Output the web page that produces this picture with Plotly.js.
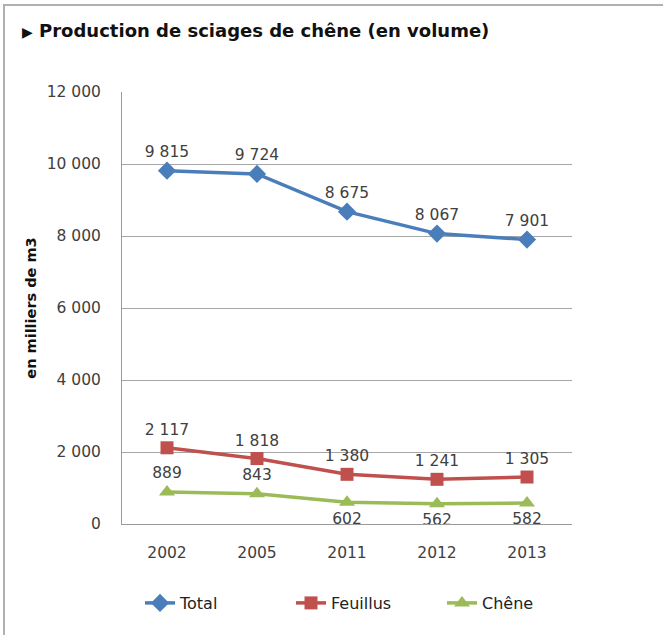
<!DOCTYPE html>
<html lang="fr">
<head>
    <meta charset="UTF-8">
    <title>Production de sciages de chêne (en volume)</title>
    <script src="https://cdn.jsdelivr.net/npm/plotly.js@3.0.1/dist/plotly.min.js"></script>
    <style>
        html, body { margin: 0; padding: 0; background: #fff; }
        #frame { position: absolute; left: 3px; top: 4px; width: 660px; height: 631px;
                 border-left: 2px solid #b0b0b0; border-top: 2px solid #b0b0b0; }
        #chart { position: absolute; left: 0; top: 0; width: 663px; height: 635px; }
    </style>
</head>
<body>
    <div id="frame"></div>
    <div id="chart"></div>
    <script>
        // Years and series (milliers de m3)
        const years = ['2002', '2005', '2011', '2012', '2013'];
        const total = [9815, 9724, 8675, 8067, 7901];
        const feuillus = [2117, 1818, 1380, 1241, 1305];
        const chene = [889, 843, 602, 562, 582];
        const cheneLabelPos = ['top center', 'top center', 'bottom center', 'bottom center', 'bottom center'];

        const FONT = 'DejaVu Sans, sans-serif';
        const labelFont = { family: FONT, size: 15.5, color: '#404040' };

        const traces = [
            {
                name: 'Total', x: years, y: total, type: 'scatter', mode: 'lines+markers+text',
                line: { color: '#4a7ebb', width: 3.5 },
                marker: { symbol: 'diamond', size: 14, color: '#4a7ebb' },
                texttemplate: '%{y:,d}', textposition: 'top center', textfont: labelFont
            },
            {
                name: 'Feuillus', x: years, y: feuillus, type: 'scatter', mode: 'lines+markers+text',
                line: { color: '#c0504d', width: 3.5 },
                marker: { symbol: 'square', size: 13, color: '#c0504d' },
                texttemplate: '%{y:,d}', textposition: 'top center', textfont: labelFont
            },
            {
                name: 'Chêne', x: years, y: chene, type: 'scatter', mode: 'lines+markers+text',
                line: { color: '#9bbb59', width: 3.5 },
                marker: { symbol: 'triangle-up', size: 14, color: '#9bbb59' },
                texttemplate: '%{y:,d}', textposition: cheneLabelPos, textfont: labelFont
            }
        ];

        const layout = {
            width: 663, height: 635,
            margin: { l: 122, r: 91, t: 92, b: 111 },
            paper_bgcolor: 'rgba(0,0,0,0)', plot_bgcolor: 'rgba(0,0,0,0)',
            separators: ', ',
            font: { family: FONT, size: 15.5, color: '#404040' },
            title: {
                text: '<span style="font-size:14px">▶</span> Production de sciages de chêne (en volume)',
                font: { family: FONT, size: 18, color: '#111', weight: 'bold' },
                xref: 'container', yref: 'container', x: 22 / 663, xanchor: 'left',
                y: 1 - 31 / 635, yanchor: 'middle'
            },
            xaxis: {
                type: 'category', range: [-0.5, 4.5], showgrid: false,
                showline: true, linecolor: '#9a9a9a', linewidth: 1,
                ticks: '', ticklabelstandoff: 14, tickfont: { size: 15.5, color: '#404040' }
            },
            yaxis: {
                range: [0, 12000], dtick: 2000, tickformat: ',d',
                showgrid: true, gridcolor: '#a6a6a6', gridwidth: 1,
                showline: true, linecolor: '#9a9a9a', linewidth: 1, zeroline: false,
                ticks: '', ticklabelstandoff: 17, tickfont: { size: 15.5, color: '#404040' },
                title: { text: 'en milliers de m3', standoff: 6,
                         font: { family: FONT, size: 14.5, color: '#111', weight: 'bold' } }
            },
            showlegend: true,
            legend: {
                orientation: 'h', x: 140 / 663, xanchor: 'left', xref: 'container',
                y: 1 - 603 / 635, yref: 'container', yanchor: 'middle',
                entrywidth: 106, font: { family: FONT, size: 16, color: '#222' }
            }
        };

        Plotly.newPlot('chart', traces, layout, { displayModeBar: false, staticPlot: true });
    </script>
</body>
</html>
